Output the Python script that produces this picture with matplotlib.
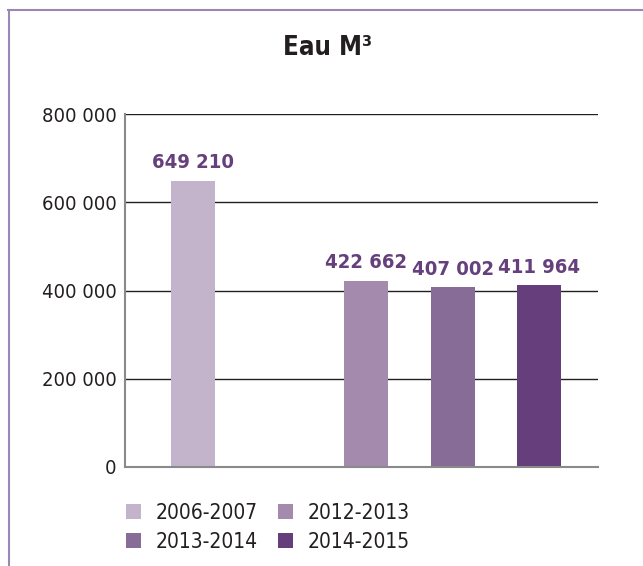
import matplotlib
matplotlib.use("Agg")
import matplotlib.pyplot as plt
from matplotlib.lines import Line2D
from matplotlib.ticker import FuncFormatter

plt.rcParams['font.family'] = ['DejaVu Sans']
plt.rcParams['font.stretch'] = 'condensed'

categories = ["2006-2007", "2012-2013", "2013-2014", "2014-2015"]
values = [649210, 422662, 407002, 411964]
positions = [0, 2, 3, 4]
colors = ["#c4b4cb", "#a48bae", "#876c97", "#663e7b"]
yticks = [0, 200000, 400000, 600000, 800000]
title = "Eau M³"

fig = plt.figure(figsize=(6.43, 5.66), dpi=100)
ax = fig.add_axes([125/643, 1-467/566, (598-125)/643, (467-114)/566])

bars = ax.bar(positions, values, width=0.51, color=colors, zorder=3)
ax.set_xlim(-0.79, 4.68)
ax.set_ylim(0, 800000)
ax.set_yticks(yticks)
ax.yaxis.set_major_formatter(FuncFormatter(lambda v, p: f"{int(v):,}".replace(",", " ")))
ax.set_xticks([])
ax.tick_params(axis='y', length=0, pad=6, labelsize=14.5, labelcolor="#231f20")
ax.grid(axis='y', color="#231f20", linewidth=1.0, zorder=1)
for s in ['top', 'right']:
    ax.spines[s].set_visible(False)
for s in ['left', 'bottom']:
    ax.spines[s].set_color("#8a8a8a")
    ax.spines[s].set_linewidth(1.5)
    ax.spines[s].set_zorder(4)

for b, v in zip(bars, values):
    ax.annotate(f"{v:,}".replace(",", " "), (b.get_x() + b.get_width()/2, v),
                xytext=(0, 6), textcoords='offset points', ha='center', va='bottom',
                fontsize=14.5, fontweight='bold', color="#65407c")

fig.text(328/643, 1-48/566, title, ha='center', va='center', fontsize=18.5, fontweight='bold', color="#231f20")

order = [0, 2, 1, 3]
leg = fig.legend([bars[i] for i in order], [categories[i] for i in order], ncol=2,
                 loc='upper left', bbox_to_anchor=(111/643, 1-488/566), frameon=False,
                 fontsize=15, handlelength=0.72, handleheight=0.72, handletextpad=0.72,
                 columnspacing=0.95, labelspacing=0.45, borderpad=0.2)
for t in leg.get_texts():
    t.set_color("#231f20")

frame_color = "#9b86b5"
fig.add_artist(Line2D([8/643, 1], [1-10/566, 1-10/566], color=frame_color, linewidth=1.5))
fig.add_artist(Line2D([9/643, 9/643], [0, 1-10/566], color=frame_color, linewidth=1.5))

fig.savefig("out.png", dpi=100)
